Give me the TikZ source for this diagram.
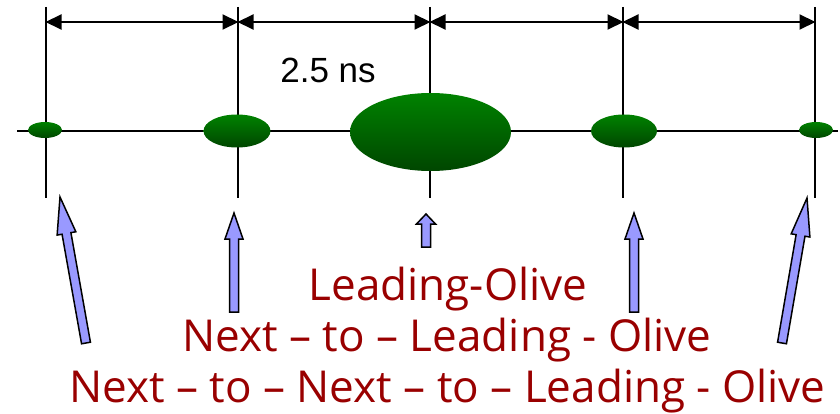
\documentclass[tikz,border=0pt]{standalone}
\usepackage{fontspec}
\setmainfont{Liberation Sans}
\newfontfamily\labelfont{Open Sans}
\usetikzlibrary{arrows.meta,shapes.geometric,calc}
\definecolor{olivetop}{RGB}{0,130,0}
\definecolor{olivebot}{RGB}{0,70,0}
\definecolor{arrowblue}{RGB}{153,153,255}
\definecolor{labelred}{RGB}{153,0,0}
\newcommand\blkarrow[6]{%
  \coordinate (#6) at ($(#2)!#5!(#1)$);
  \draw[blockarrow] ($(#1)!#3!90:(#2)$) -- ($(#6)!#3!-90:(#1)$) -- ($(#6)!#4!-90:(#1)$) -- (#2)
    -- ($(#6)!#4!90:(#1)$) -- ($(#6)!#3!90:(#1)$) -- ($(#1)!#3!-90:(#2)$) -- cycle;}
\begin{document}
\begin{tikzpicture}[x=1pt,y=-1pt,
  olive/.style={ellipse, inner sep=0pt, top color=olivetop, bottom color=olivebot, draw=none},
  gridline/.style={line width=2pt, black},
  dimarrow/.style={line width=2pt, {Triangle[length=16pt,width=15pt]}-{Triangle[length=16pt,width=15pt]}, shorten <=-0.5pt, shorten >=-0.5pt},
  blockarrow/.style={draw=black, line width=1.5pt, fill=arrowblue, line join=miter},
  lbl/.style={font=\labelfont\fontsize{44}{52}\selectfont, text=labelred, anchor=base, inner sep=0pt}
]
\useasboundingbox (0,0) rectangle (840,414);
% axis
\coordinate (hl) at (17,131);
\coordinate (hr) at (838,131);
\draw[gridline] (hl) -- (hr);
% vertical lines
\foreach \i/\x in {1/46,2/238,3/430,4/623,5/815}{
  \coordinate (t\i) at (\x,7);
  \coordinate (b\i) at (\x,198);
  \coordinate (d\i) at (\x,22);
  \draw[gridline] (t\i) -- (b\i);
}
% dimension arrows
\draw[dimarrow] (d1) -- (d2);
\draw[dimarrow] (d2) -- (d3);
\draw[dimarrow] (d3) -- (d4);
\draw[dimarrow] (d4) -- (d5);
\node[font=\fontsize{35}{40}\selectfont, anchor=base, inner sep=0pt] (ns) at (328,83) {2.5 ns};
% olives
\node[olive, minimum width=34pt, minimum height=16pt] (o1) at (45,130) {};
\node[olive, minimum width=67pt, minimum height=33pt] (o2) at (237,131) {};
\node[olive, minimum width=161pt, minimum height=78pt] (o3) at (430.5,132) {};
\node[olive, minimum width=66pt, minimum height=33pt] (o4) at (624,131) {};
\node[olive, minimum width=34pt, minimum height=16pt] (o5) at (816,130) {};
% block arrows
\coordinate (a1t) at (86,343); \coordinate (a1p) at (60,197);
\coordinate (a2t) at (234,312); \coordinate (a2p) at (234,213);
\coordinate (a3t) at (426,247); \coordinate (a3p) at (426,214);
\coordinate (a4t) at (634,312); \coordinate (a4p) at (634,213);
\coordinate (a5t) at (782,343); \coordinate (a5p) at (807,198);
\blkarrow{a1t}{a1p}{4.5pt}{9.5pt}{37pt}{a1h}
\blkarrow{a2t}{a2p}{4.5pt}{9pt}{26pt}{a2h}
\blkarrow{a3t}{a3p}{4.5pt}{9.5pt}{10pt}{a3h}
\blkarrow{a4t}{a4p}{4.5pt}{9pt}{26pt}{a4h}
\blkarrow{a5t}{a5p}{4.5pt}{9.5pt}{38pt}{a5h}
% labels
\node[lbl] (l1) at (448,300) {Leading-Olive};
\node[lbl] (l2) at (447,351) {Next – to – Leading - Olive};
\node[lbl] (l3) at (447.5,402) {Next – to – Next – to – Leading - Olive};
\end{tikzpicture}
\end{document}
